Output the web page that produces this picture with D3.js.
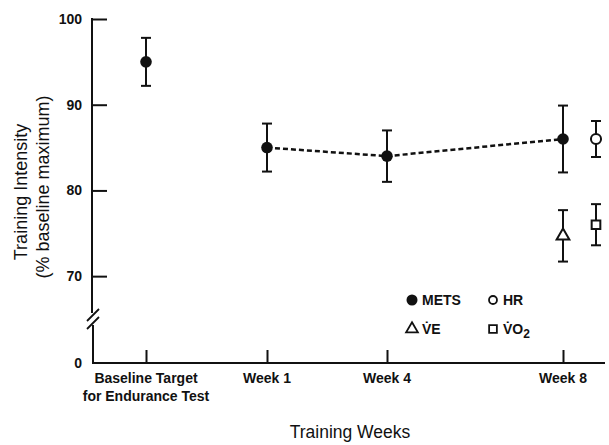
<!DOCTYPE html>
<html>
<head>
<meta charset="utf-8">
<script src="https://cdn.jsdelivr.net/npm/d3@7"></script>
<style>
  body { margin: 0; background: #fff; }
  text { font-family: "Liberation Sans", Arial, sans-serif; fill: #111; }
  .tick-lbl { font-size: 14px; font-weight: bold; }
  .titulo { font-size: 18px; }
</style>
</head>
<body>
<div id="vis"></div>
<script>
// datos ------------------------------------------------------------------
const CATEGORIES = ["Baseline", "Week 1", "Week 4", "Week 8"];
const CATEGORY_LABELS = [["Baseline Target", "for Endurance Test"], ["Week 1"], ["Week 4"], ["Week 8"]];
const METS = [95, 85, 84, 86];
const METS_ERR = [2.8, 2.8, 3.0, 3.9];
const OTHER_SERIES = ["HR", "VE", "VO2"];
const OTHER_CATEGORY = ["Week 8", "Week 8", "Week 8"];
const OTHER_VALUES = [86, 74.7, 76];
const OTHER_ERR = [2.1, 3.0, 2.4];
const Y_TICKS = [0, 70, 80, 90, 100];

const WIDTH = 609;
const HEIGHT = 445;
const SVG = d3.select("#vis").append("svg").attr("width", WIDTH).attr("height", HEIGHT);

const X0 = 92;          // eje y
const Y0 = 363;         // eje x

const x = d3.scaleOrdinal().domain(CATEGORIES).range([146, 267, 387, 563]);
// escala con corte: 0 abajo, 65..100 arriba
const y = d3.scaleLinear().domain([0, 65, 100]).range([Y0, 319, 19]);

// eje y  -----------------------------------------------------------------
const yAxis = d3.axisLeft(y).tickValues(Y_TICKS).tickSize(-15).tickPadding(10);
const gy = SVG.append("g").attr("transform", `translate(${X0},0)`).call(yAxis);
gy.select(".domain").remove();
gy.selectAll(".tick line").attr("stroke", "#111").attr("stroke-width", 2)
  .filter(d => d === 0).remove();
gy.selectAll(".tick text").attr("class", "tick-lbl").attr("font-family", null).attr("font-size", null);

SVG.append("line").attr("x1", X0).attr("x2", X0).attr("y1", y(100) - 1).attr("y2", 313)
  .attr("stroke", "#111").attr("stroke-width", 2);
SVG.append("line").attr("x1", X0 + 1).attr("x2", X0 + 1).attr("y1", 325).attr("y2", Y0)
  .attr("stroke", "#111").attr("stroke-width", 2);
// marcas de corte
[0, 8].forEach(dy => {
  SVG.append("line").attr("x1", X0 - 5).attr("y1", 321 + dy).attr("x2", X0 + 7).attr("y2", 309 + dy)
    .attr("stroke", "#111").attr("stroke-width", 1.8);
});

// eje x  -----------------------------------------------------------------
const xAxis = d3.axisBottom(x).tickSize(-13).tickPadding(13).tickFormat("");
const gx = SVG.append("g").attr("transform", `translate(0,${Y0})`).call(xAxis);
gx.select(".domain").remove();
gx.selectAll(".tick line").attr("stroke", "#111").attr("stroke-width", 2);
SVG.append("line").attr("x1", X0).attr("x2", 605).attr("y1", Y0).attr("y2", Y0)
  .attr("stroke", "#111").attr("stroke-width", 2);

CATEGORIES.forEach((c, i) => {
  const t = SVG.append("text").attr("class", "tick-lbl").attr("text-anchor", "middle")
    .attr("x", x(c)).attr("y", Y0 + 20);
  CATEGORY_LABELS[i].forEach((l, j) => {
    t.append("tspan").attr("x", x(c)).attr("dy", j === 0 ? 0 : 18).text(l);
  });
});

// titulos  ---------------------------------------------------------------
SVG.append("text").attr("class", "titulo").attr("text-anchor", "middle")
  .attr("x", 350).attr("y", 438).style("font-size", "17.5px").text("Training Weeks");
SVG.append("text").attr("class", "titulo").attr("text-anchor", "middle")
  .attr("transform", "translate(27,192) rotate(-90)").text("Training Intensity");
SVG.append("text").attr("class", "titulo").attr("text-anchor", "middle")
  .attr("transform", "translate(49,187) rotate(-90)").text("(% baseline maximum)");

// barras de error  -------------------------------------------------------
function errorBar(cx, v, e) {
  const g = SVG.append("g").attr("stroke", "#111").attr("stroke-width", 2);
  g.append("line").attr("x1", cx).attr("x2", cx).attr("y1", y(v + e)).attr("y2", y(v - e));
  g.append("line").attr("x1", cx - 5).attr("x2", cx + 5).attr("y1", y(v + e)).attr("y2", y(v + e));
  g.append("line").attr("x1", cx - 5).attr("x2", cx + 5).attr("y1", y(v - e)).attr("y2", y(v - e));
}

// linea punteada METS (sin baseline)
const line = d3.line().x(d => x(d[0])).y(d => y(d[1]));
SVG.append("path")
  .datum(CATEGORIES.map((c, i) => [c, METS[i]]).slice(1))
  .attr("d", line).attr("fill", "none").attr("stroke", "#111")
  .attr("stroke-width", 2.5).attr("stroke-dasharray", "5,3");

CATEGORIES.forEach((c, i) => errorBar(x(c), METS[i], METS_ERR[i]));
SVG.selectAll(".mets").data(CATEGORIES).join("circle")
  .attr("cx", d => x(d)).attr("cy", (d, i) => y(METS[i])).attr("r", 5.8).attr("fill", "#111");

// otras series
const OFFSET = { HR: 33, VE: 0, VO2: 33 };
const SYMBOL = { HR: d3.symbolCircle, VE: d3.symbolTriangle, VO2: d3.symbolSquare };
const SIZE = { HR: 80, VE: 70, VO2: 75 };
OTHER_SERIES.forEach((s, i) => {
  const cx = x(OTHER_CATEGORY[i]) + OFFSET[s];
  errorBar(cx, OTHER_VALUES[i], OTHER_ERR[i]);
  SVG.append("path").attr("d", d3.symbol(SYMBOL[s], SIZE[s])())
    .attr("transform", `translate(${cx},${y(OTHER_VALUES[i])})`)
    .attr("fill", "#fff").attr("stroke", "#111").attr("stroke-width", 2);
});

// leyenda  ---------------------------------------------------------------
const LEG = [
  { s: "METS", x: 412, y: 300, label: "METS" },
  { s: "HR", x: 493, y: 300, label: "HR" },
  { s: "VE", x: 412, y: 329, label: "V\u0307E" },
  { s: "VO2", x: 493, y: 329, label: "V\u0307O" }
];
LEG.forEach(d => {
  if (d.s === "METS") {
    SVG.append("circle").attr("cx", d.x).attr("cy", d.y).attr("r", 5.5).attr("fill", "#111");
  } else {
    SVG.append("path").attr("d", d3.symbol(SYMBOL[d.s], d.s === "HR" ? 50 : 60)())
      .attr("transform", `translate(${d.x},${d.y})`)
      .attr("fill", "#fff").attr("stroke", "#111").attr("stroke-width", 1.8);
  }
  const t = SVG.append("text").attr("class", "tick-lbl").attr("x", d.x + 10).attr("y", d.y + 5).text(d.label);
  if (d.s === "VO2") {
    t.append("tspan").attr("dy", 4).style("font-size", "12px").text("2");
  }
});
</script>
</body>
</html>
